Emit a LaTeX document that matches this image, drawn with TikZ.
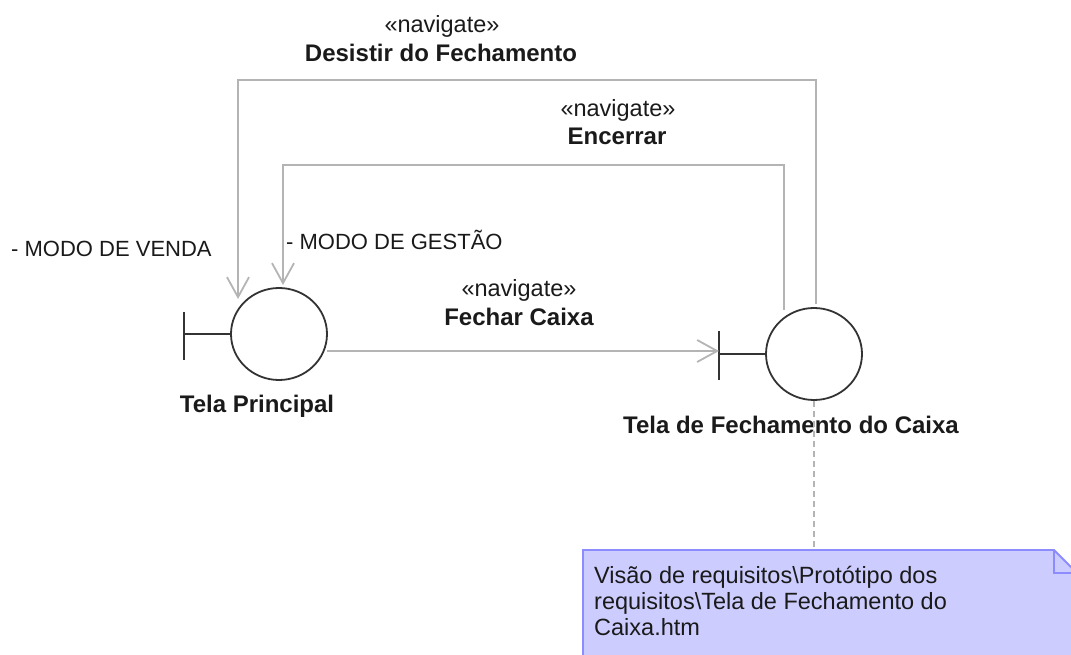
\documentclass[tikz,border=0pt]{standalone}
\usepackage{fontspec}
\setmainfont{Liberation Sans}
\usetikzlibrary{arrows.meta,shapes.geometric}
\definecolor{navgray}{HTML}{B4B4B4}
\definecolor{linedark}{HTML}{333333}
\definecolor{notefill}{HTML}{CCCCFF}
\definecolor{noteline}{HTML}{8C8CFF}
\definecolor{txt}{HTML}{1A1A1A}
\tikzset{
  boundary/.style={ellipse, draw=linedark, line width=1.8pt,
    minimum width=96pt, minimum height=92pt, inner sep=0pt},
  bar/.style={draw=linedark, line width=1.8pt},
  nav/.style={draw=navgray, line width=1.8pt,
    -{Straight Barb[length=20pt,width=22pt]}},
  stereo/.style={anchor=base, inner sep=0pt, text=txt,
    font=\fontsize{23.5}{26}\selectfont},
  navname/.style={anchor=base, inner sep=0pt, text=txt,
    font=\fontsize{24}{28}\bfseries\selectfont},
  modelbl/.style={anchor=base west, inner sep=0pt, text=txt,
    font=\fontsize{22}{26}\selectfont},
}
\begin{document}
\begin{tikzpicture}[x=1pt,y=-1pt]
  \useasboundingbox (0,0) rectangle (1071,655);
  \clip (0,0) rectangle (1071,655);

  % boundaries
  \node[boundary] (principal) at (279,334) {};
  \node[boundary] (fechamento) at (814,354) {};
  \draw[bar] (184,312) -- (184,360);
  \draw[bar] (principal.west) -- (principal.west -| 184,0);
  \draw[bar] (719,331) -- (719,380);
  \draw[bar] (fechamento.west) -- (fechamento.west -| 719,0);
  \node[navname] (lprincipal) at (257,412) {Tela Principal};
  \node[navname] (lfechamento) at (791,433) {Tela de Fechamento do Caixa};

  % end points of the connectors
  \coordinate (fcsrc) at (327,351);
  \coordinate (fctip) at (719,351);
  \coordinate (dsrc) at (816,304);
  \coordinate (dtip) at (238,299);
  \coordinate (esrc) at (784,310);
  \coordinate (etip) at (283,285);

  \draw[nav] (fcsrc) -- (fctip);
  \draw[nav] (dsrc) -- (dsrc |- 0,80) -| (dtip);
  \draw[nav] (esrc) -- (esrc |- 0,165) -| (etip);

  \node[stereo] (sfechar) at (519,296) {«navigate»};
  \node[navname] (nfechar) at (519,325) {Fechar Caixa};
  \node[stereo] (sdesistir) at (442,33) {«navigate»};
  \node[navname] (ndesistir) at (441,62) {Desistir do Fechamento};
  \node[stereo] (sencerrar) at (618,117) {«navigate»};
  \node[navname] (nencerrar) at (617,145) {Encerrar};
  \node[modelbl] (venda) at (11,257) {- MODO DE VENDA};
  \node[modelbl] (gestao) at (286,250) {- MODO DE GESTÃO};

  % note
  \filldraw[fill=notefill, draw=noteline, line width=1.8pt]
    (583,550) -- (1054,550) -- (1077,573) -- (1077,690)
    -- (583,690) -- cycle;
  \draw[noteline, line width=1.8pt] (1054,550) -- (1054,573) -- (1077,573);
  \coordinate (notetop) at (814,550);
  \draw[navgray, line width=1.2pt, dash pattern=on 6pt off 4pt]
    (fechamento.south) -- (notetop);
  \node[anchor=north west, inner sep=0pt, text=txt, align=left,
        font=\fontsize{23.5}{26}\selectfont] (nota) at (594,566)
    {Visão de requisitos\textbackslash Protótipo dos\\
     requisitos\textbackslash Tela de Fechamento do\\
     Caixa.htm};
\end{tikzpicture}
\end{document}
